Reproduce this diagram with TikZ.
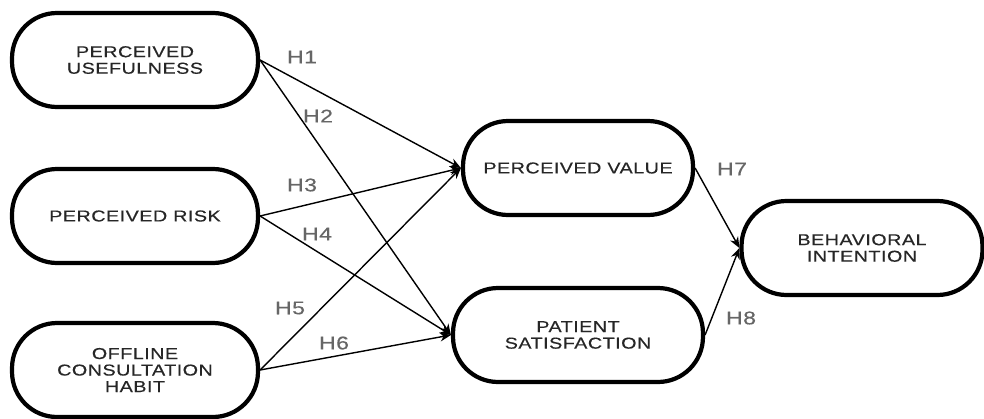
\documentclass[tikz,border=0pt]{standalone}
\usepackage{fontspec}
\setmainfont{Liberation Sans}[FakeStretch=1.25,LetterSpace=3,FakeBold=0.4]
\usetikzlibrary{arrows.meta}

\tikzset{
  construct/.style={draw, line width=2.4pt, rounded corners=0.9cm, align=center,
    font=\fontsize{9}{9.4}\selectfont, text=black!85, minimum height=1.88cm},
  hypo/.style={->, >={Stealth[length=2.2mm,width=1.8mm]}, line width=0.8pt},
  hlabel/.style={font=\fontsize{10.5}{11}\selectfont, text=black!60}
}

\begin{document}
\begin{tikzpicture}[x=0.02cm, y=-0.02cm]

% canvas
\useasboundingbox (0,0) rectangle (984,419);

% draw constructs
\node[construct, minimum width=4.92cm] (useful) at (135, 60)  {PERCEIVED\\USEFULNESS};
\node[construct, minimum width=4.92cm] (risk)   at (135, 216) {PERCEIVED RISK};
\node[construct, minimum width=4.92cm] (habit)  at (135, 370) {OFFLINE\\CONSULTATION\\HABIT};
\node[construct, minimum width=4.60cm] (value)  at (578, 168) {PERCEIVED VALUE};
\node[construct, minimum width=5.00cm] (satis)  at (578, 335) {PATIENT\\SATISFACTION};
\node[construct, minimum width=4.82cm] (intent) at (862, 248) {BEHAVIORAL\\INTENTION};

% draw paths
\draw[hypo] (useful.east) -- (value.west);
\draw[hypo] (useful.east) -- (satis.west);
\draw[hypo] (risk.east) -- (value.west);
\draw[hypo] (risk.east) -- (satis.west);
\draw[hypo] (habit.east) -- (value.west);
\draw[hypo] (habit.east) -- (satis.west);
\draw[hypo] (value.east) -- (intent.west);
\draw[hypo] (satis.east) -- (intent.west);

% hypotheses
\node[hlabel] (h1) at (302, 57)  {H1};
\node[hlabel] (h2) at (318, 116) {H2};
\node[hlabel] (h3) at (302, 185) {H3};
\node[hlabel] (h4) at (317, 234) {H4};
\node[hlabel] (h5) at (290, 308) {H5};
\node[hlabel] (h6) at (334, 343) {H6};
\node[hlabel] (h7) at (732, 169) {H7};
\node[hlabel] (h8) at (741, 318) {H8};

\end{tikzpicture}
\end{document}
